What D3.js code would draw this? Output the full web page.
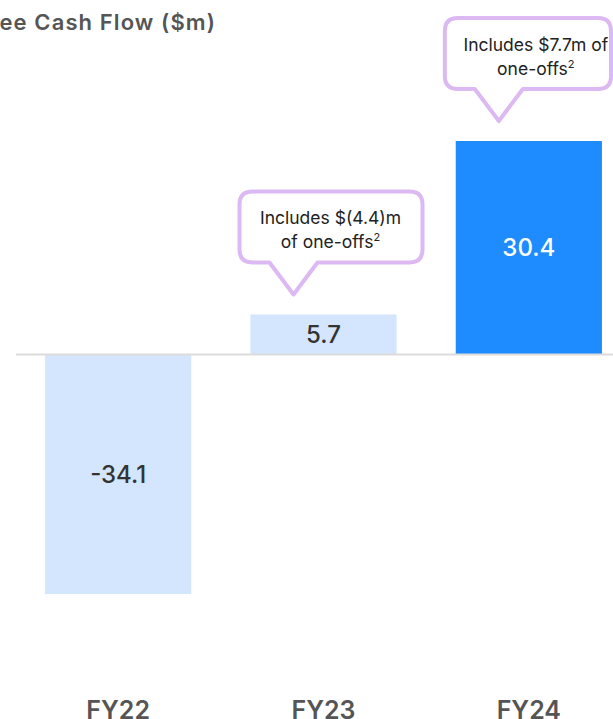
<!DOCTYPE html>
<html lang="en">
    <head>
        <meta charset="utf-8">
        <title>Free Cash Flow</title>
        <script src="https://cdn.jsdelivr.net/npm/d3@7"></script>
        <style>
            body { margin: 0; background: #fff; }
            svg { display: block; font-family: Inter, "Noto Sans", sans-serif; }
        </style>
    </head>
    <body>
        <script>
            // chart data
            var years = ["FY22", "FY23", "FY24"];
            var fcf = [-34.1, 5.7, 30.4];
            var barColors = ["#d3e6fe", "#d3e6fe", "#1e8cff"];
            var labelColors = ["#333", "#333", "#fff"];
            // callouts: which year, text lines (the "2" is a footnote mark)
            var calloutYears = ["FY23", "FY24"];
            var calloutLines = [["Includes $(4.4)m", "of one-offs"], ["Includes $7.7m of", "one-offs"]];

            var w = 613, h = 719;
            var svg = d3.select("body").append("svg")
                .attr("width", w).attr("height", h);

            var x = d3.scaleBand().domain(years)
                .range([15.5, 631.5])
                .paddingInner(0.288).paddingOuter(0.144);
            var y = d3.scaleLinear().domain([0, 30.4]).range([354.5, 141]);

            // title (cut at the left edge in the original)
            svg.append("text")
                .attr("x", 216).attr("y", 30)
                .attr("text-anchor", "end")
                .attr("font-size", 22).attr("font-weight", 600)
                .attr("letter-spacing", 1.1)
                .attr("fill", "#555")
                .text("Free Cash Flow ($m)");

            var data = years.map(function(c, i) {
                return { year: c, val: fcf[i], color: barColors[i], lc: labelColors[i] };
            });

            svg.selectAll("rect.bar").data(data).enter().append("rect")
                .attr("class", "bar")
                .attr("x", function(d) { return x(d.year); })
                .attr("y", function(d) { return y(Math.max(0, d.val)); })
                .attr("width", x.bandwidth())
                .attr("height", function(d) { return Math.abs(y(d.val) - y(0)); })
                .attr("fill", function(d) { return d.color; });

            // zero line
            svg.append("line")
                .attr("x1", 16).attr("x2", w)
                .attr("y1", y(0)).attr("y2", y(0))
                .attr("stroke", "#dcdcdc").attr("stroke-width", 2);

            svg.selectAll("text.val").data(data).enter().append("text")
                .attr("class", "val")
                .attr("x", function(d) { return x(d.year) + x.bandwidth() / 2; })
                .attr("y", function(d) { return (y(d.val) + y(0)) / 2; })
                .attr("dy", "0.36em")
                .attr("text-anchor", "middle")
                .attr("font-size", 24).attr("font-weight", 500)
                .attr("fill", function(d) { return d.lc; })
                .text(function(d) { return d.val.toFixed(1); });

            // category labels
            svg.selectAll("text.cat").data(years).enter().append("text")
                .attr("class", "cat")
                .attr("x", function(d) { return x(d) + x.bandwidth() / 2; })
                .attr("y", 719)
                .attr("text-anchor", "middle")
                .attr("font-size", 25).attr("font-weight", 600)
                .attr("fill", "#555")
                .text(function(d) { return d; });

            // speech bubble callouts
            function bubble(l, t, r, b, tipX, tipY, rad) {
                var p = d3.path();
                p.moveTo(l + rad, t);
                p.lineTo(r - rad, t);
                p.quadraticCurveTo(r, t, r, t + rad);
                p.lineTo(r, b - rad);
                p.quadraticCurveTo(r, b, r - rad, b);
                p.lineTo(tipX + 24, b);
                p.lineTo(tipX, tipY);
                p.lineTo(tipX - 24, b);
                p.lineTo(l + rad, b);
                p.quadraticCurveTo(l, b, l, b - rad);
                p.lineTo(l, t + rad);
                p.quadraticCurveTo(l, t, l + rad, t);
                p.closePath();
                return p.toString();
            }

            calloutYears.forEach(function(c, i) {
                var v = fcf[years.indexOf(c)];
                var cx = x(c) + x.bandwidth() / 2;
                var tipX = cx - 30;
                var tipY = y(v) - 20;
                var l = cx - 84, r = Math.min(cx + 99, w - 2);
                var b = tipY - 32, t = b - 71;
                var g = svg.append("g");
                g.append("path")
                    .attr("d", bubble(l, t, r, b, tipX, tipY, 13))
                    .attr("fill", "#fff")
                    .attr("stroke", "#dcb9f2")
                    .attr("stroke-width", 4)
                    .attr("stroke-linejoin", "round");
                calloutLines[i].forEach(function(line, k) {
                    var tx = g.append("text")
                        .attr("x", cx + 7).attr("y", t + 33 + k * 24)
                        .attr("text-anchor", "middle")
                        .attr("font-size", 17.5)
                        .attr("fill", "#222");
                    tx.append("tspan").text(line);
                    if (k === calloutLines[i].length - 1) {
                        tx.append("tspan")
                            .attr("font-size", 11)
                            .attr("dy", -7)
                            .text("2");
                    }
                });
            });
        </script>
    </body>
</html>
